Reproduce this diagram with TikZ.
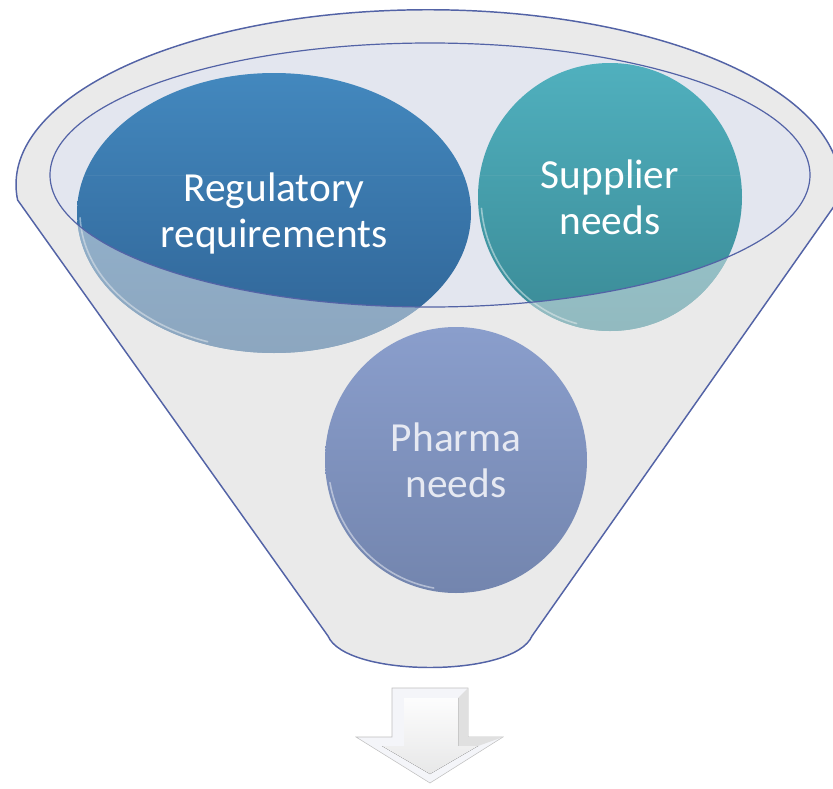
\documentclass[tikz,border=0pt]{standalone}
\usepackage{fontspec}
\setmainfont{Carlito}
\usetikzlibrary{shapes.geometric}
\definecolor{rimblue}{HTML}{5363A6}
\definecolor{funnelgrey}{HTML}{EAEAEA}
\definecolor{openfill}{HTML}{E3E6EF}
\definecolor{regtop}{HTML}{4388BE}
\definecolor{regbot}{HTML}{2F6395}
\definecolor{suptop}{HTML}{50B0BE}
\definecolor{supbot}{HTML}{3A8A96}
\definecolor{phatop}{HTML}{8A9ECC}
\definecolor{phabot}{HTML}{7385AE}
\definecolor{phatext}{HTML}{E6E9F2}

\begin{document}
\begin{tikzpicture}[x=0.75pt,y=-0.75pt]
\tikzstyle{every node}+=[inner sep=0pt]
\tikzstyle{bubble}=[ellipse, text=white, align=center, font=\fontsize{31}{34.5}\selectfont]
\tikzstyle{gloss}=[white, opacity=0.45, line width=1.2pt, line cap=round]
\useasboundingbox (0,0) rectangle (833,789);
% funnel body and opening
\draw [rimblue, line width=1.1pt, fill=funnelgrey] (17.6,200) arc[start angle=175, end angle=365, x radius=412, y radius=175] -- (532,636) .. controls (514,678) and (346,678) .. (328,636) -- cycle;
\fill [openfill] (430,175) ellipse [x radius=380, y radius=132];
% top two bubbles
\node [bubble, minimum width=295.5pt, minimum height=210pt, top color=regtop, bottom color=regbot] (reg) at (274,213) {Regulatory\\requirements};
\node [bubble, minimum width=198pt, minimum height=201pt, top color=suptop, bottom color=supbot] (sup) at (610,197) {Supplier\\needs};
\draw [gloss] (274,213) ++(110:194 and 137) arc[start angle=110, end angle=178, x radius=194, y radius=137];
\draw [gloss] (610,197) ++(105:129 and 131) arc[start angle=105, end angle=175, x radius=129, y radius=131];
% front of the funnel over the bubbles
\begin{scope}
\clip (274,213) ellipse [x radius=197, y radius=140] (610,197) ellipse [x radius=132, y radius=134];
\clip (0,175) rectangle (833,420);
\fill [funnelgrey, opacity=0.5, even odd rule] (0,175) rectangle (833,420) (430,175) ellipse [x radius=380, y radius=132];
\end{scope}
\draw [rimblue, line width=0.9pt] (430,175) ellipse [x radius=380, y radius=132];
% bottom bubble
\node [bubble, text=phatext, minimum width=196.5pt, minimum height=199.5pt, top color=phatop, bottom color=phabot] (pha) at (456,460) {Pharma\\needs};
\draw [gloss] (456,460) ++(100:128 and 130) arc[start angle=100, end angle=170, x radius=128, y radius=130];
% arrow below
\draw [fill=white!60!openfill, draw=black!25] (392,688) -- (468,688) -- (468,737) -- (503,737) -- (430,783) -- (356,737) -- (392,737) -- cycle;
\fill [black!12] (458,698) -- (468,688) -- (468,737) -- (503,737) -- (478,746) -- (458,746) -- cycle;
\fill [top color=openfill!90!black!5, bottom color=openfill!85!blue!10!black!10] (404,698) -- (458,698) -- (458,746) -- (478,746) -- (430,774) -- (382,746) -- (404,746) -- cycle;
\end{tikzpicture}
\end{document}
